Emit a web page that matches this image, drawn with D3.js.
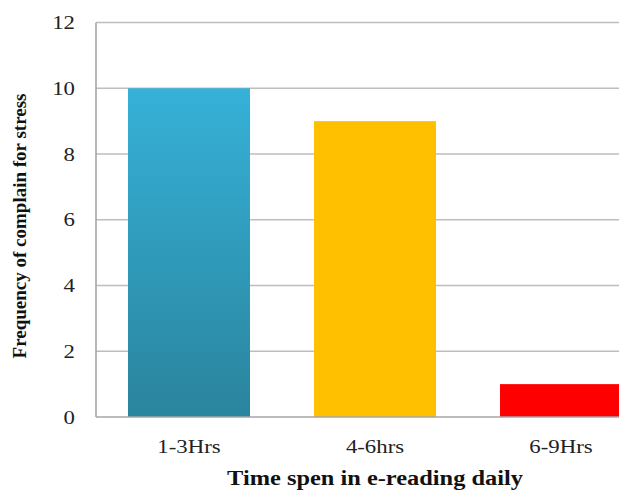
<!DOCTYPE html>
<html><head><meta charset="utf-8">
<script src="https://cdn.jsdelivr.net/npm/d3@7"></script>
<style>body{margin:0;background:#fff}svg{display:block}</style>
</head><body>
<svg id="c" width="619" height="490"></svg>
<script>
const categories = ["1-3Hrs", "4-6hrs", "6-9Hrs"];
const values = [10, 9, 1];
const colors = ["url(#blueGrad)", "#FFC000", "#FF0000"];
const yTicks = [0, 2, 4, 6, 8, 10, 12];
const xTitle = "Time spen in e-reading daily";
const yTitle = "Frequency of complain for stress";

const svg = d3.select("#c");
const m = {left: 96, top: 22.5, bottom: 417};
const step = 186;
const x = d3.scaleBand().domain(categories).range([m.left, m.left + step * categories.length]).paddingInner(0.344).paddingOuter(0.172);
const y = d3.scaleLinear().domain([0, 12]).range([m.bottom, m.top]);
const sx = 1.2; // horizontal stretch of the original text

const defs = svg.append("defs");
const g = defs.append("linearGradient").attr("id", "blueGrad").attr("x1", 0).attr("y1", 0).attr("x2", 0).attr("y2", 1);
g.append("stop").attr("offset", "0%").attr("stop-color", "#36B1D8");
g.append("stop").attr("offset", "100%").attr("stop-color", "#2A849D");

// gridlines
svg.append("g").selectAll("line").data(yTicks.filter(d => d > 0)).join("line")
  .attr("x1", m.left).attr("x2", 619).attr("y1", d => y(d)).attr("y2", d => y(d))
  .attr("stroke", "#BDBDBD").attr("stroke-width", 1.6);

// bars
svg.append("g").selectAll("rect").data(values).join("rect")
  .attr("x", (d, i) => x(categories[i])).attr("width", x.bandwidth())
  .attr("y", d => y(d)).attr("height", d => y(0) - y(d))
  .attr("fill", (d, i) => colors[i]);

// axes lines
svg.append("line").attr("x1", m.left).attr("x2", m.left).attr("y1", m.top).attr("y2", m.bottom)
  .attr("stroke", "#A6A6A6").attr("stroke-width", 1.6);
svg.append("line").attr("x1", m.left).attr("x2", 619).attr("y1", m.bottom).attr("y2", m.bottom)
  .attr("stroke", "#A6A6A6").attr("stroke-width", 1.6);

// y tick labels
svg.append("g").selectAll("text").data(yTicks).join("text")
  .attr("transform", d => `translate(75,${y(d)}) scale(${sx},1)`)
  .attr("dy", "0.35em").attr("text-anchor", "end")
  .attr("font-family", "Liberation Serif").attr("font-size", 19).attr("fill", "#222")
  .text(d => d);

// x labels
svg.append("g").selectAll("text").data(categories).join("text")
  .attr("transform", d => `translate(${x(d) + x.bandwidth() / 2},453) scale(${sx},1)`)
  .attr("text-anchor", "middle")
  .attr("font-family", "Liberation Serif").attr("font-size", 19).attr("fill", "#222")
  .text(d => d);

svg.append("text").attr("transform", `translate(375,485) scale(1.22,1)`).attr("text-anchor", "middle")
  .attr("font-family", "Liberation Serif").attr("font-weight", "bold").attr("font-size", 20).attr("fill", "#111")
  .text(xTitle);

svg.append("text").attr("transform", "translate(26,226) rotate(-90)").attr("text-anchor", "middle")
  .attr("font-family", "Liberation Serif").attr("font-weight", "bold").attr("font-size", 19).attr("fill", "#111")
  .text(yTitle);
</script>
</body></html>
